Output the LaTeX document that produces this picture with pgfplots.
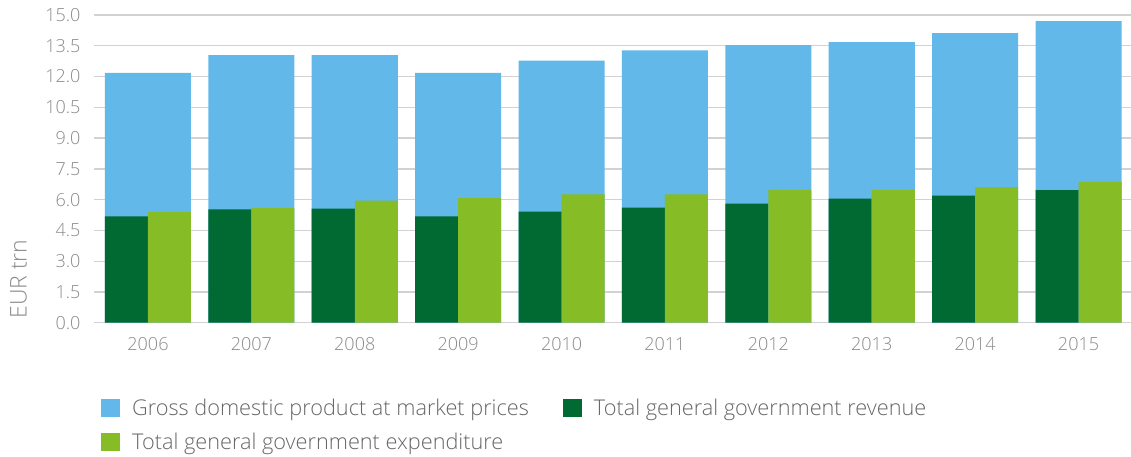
\documentclass[border=0pt]{standalone}
\usepackage{fontspec}
\setmainfont{Open Sans Light}
\usepackage{pgfplots}
\pgfplotsset{compat=1.18}
\definecolor{gdp}{HTML}{62B8E8}
\definecolor{rev}{HTML}{006A32}
\definecolor{exp}{HTML}{86BC25}
\definecolor{ticktxt}{HTML}{8A8A8A}
\definecolor{legtxt}{HTML}{666666}
\definecolor{gridc}{HTML}{D2D2D2}
\pgfplotstableread{
x year gdp rev exp
0 2006 12.18 5.18 5.39
1 2007 13.05 5.52 5.58
2 2008 13.05 5.56 5.95
3 2009 12.18 5.18 6.07
4 2010 12.78 5.42 6.26
5 2011 13.27 5.61 6.26
6 2012 13.53 5.81 6.48
7 2013 13.68 6.05 6.48
8 2014 14.12 6.20 6.61
9 2015 14.70 6.46 6.87
}\data
\begin{document}
\begin{tikzpicture}
\path[use as bounding box] (-94pt,-133.3pt) rectangle (1037pt,322.7pt);
\begin{axis}[
  at={(0,0)}, anchor=south west,
  scale only axis, width=1037pt, height=307.7pt,
  xmin=-0.522, xmax=9.507, ymin=0, ymax=15,
  axis line style={draw=none},
  major tick length=0pt,
  ytick={0,1.5,...,15},
  /pgf/number format/assume math mode=true,
  yticklabel style={/pgf/number format/fixed, /pgf/number format/fixed zerofill, /pgf/number format/precision=1},
  yticklabel style={font=\fontsize{18}{20}\selectfont, text=ticktxt, xshift=-10pt},
  xtick={0,...,9},
  xticklabels={2006,2007,2008,2009,2010,2011,2012,2013,2014,2015},
  xticklabel style={font=\fontsize{18}{20}\selectfont, text=ticktxt, yshift=-11pt},
  ymajorgrids, grid style={gridc, line width=1.3pt},
  ylabel={EUR trn},
  ylabel style={at={(axis description cs:-0.0728,0.142)}, anchor=center, font=\fontsize{23}{25}\selectfont, text=ticktxt},
  legend columns=2,
  legend cell align=left,
  legend style={draw=none, fill=none, inner sep=0pt, at={(axis description cs:0,0)}, anchor=north west, xshift=7pt, yshift=-74pt,
    font=\fontsize{21.7}{24}\selectfont, text=legtxt,
    /tikz/every odd column/.append style={column sep=10pt},
    /tikz/every even column/.append style={column sep=32pt},
    row sep=12pt},
  legend image code/.code={\fill[#1] (0pt,-9pt) rectangle (19pt,9pt);},
]
\addplot[ybar, bar width=0.832, bar shift=0, fill=gdp, draw=none] table[x=x, y=gdp] {\data};
\addlegendentry{Gross domestic product at market prices}
\addplot[ybar, bar width=0.416, bar shift=-0.208, fill=rev, draw=none] table[x=x, y=rev] {\data};
\addlegendentry{Total general government revenue}
\addplot[ybar, bar width=0.416, bar shift=0.208, fill=exp, draw=none] table[x=x, y=exp] {\data};
\addlegendentry{Total general government expenditure}
\end{axis}
\end{tikzpicture}
\end{document}
